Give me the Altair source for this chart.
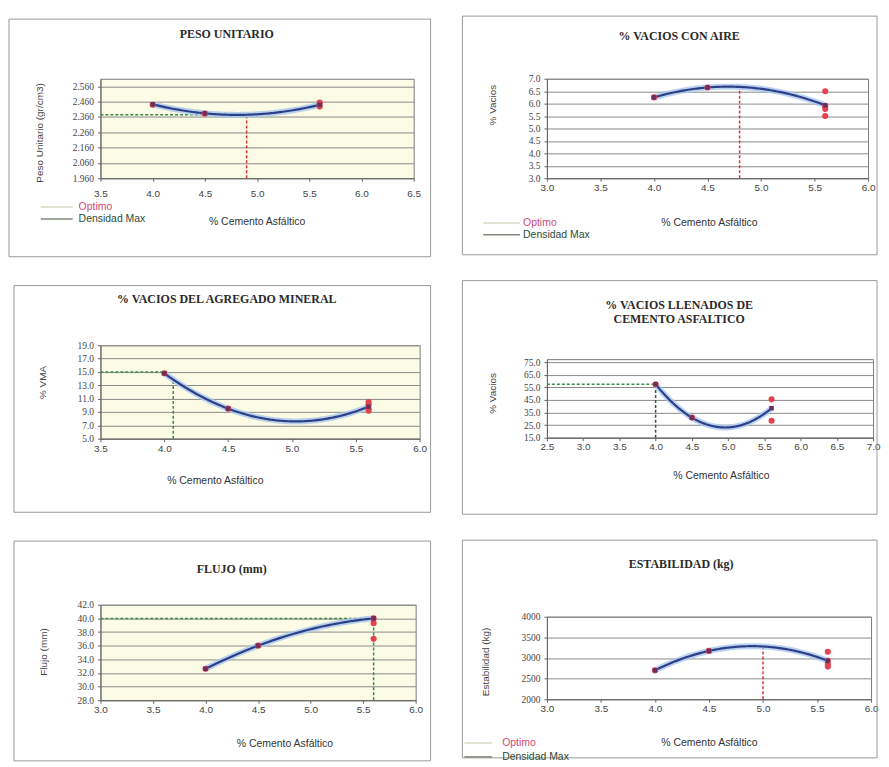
import altair as alt
import pandas as pd

# ---------------- data ----------------
x_levels = [4.0, 4.5, 5.6]

# Peso unitario
peso_avg = [2.443, 2.384, 2.440]
peso_ind_x = [4.0, 4.5, 5.6, 5.6, 5.6]
peso_ind_y = [2.440, 2.382, 2.455, 2.445, 2.428]
peso_opt = [4.9, 1.960, 2.375]          # x, bottom, curve value
peso_dens = [3.5, 4.9, 2.375]           # x from, x to, y

# % Vacios con aire
va_avg = [6.25, 6.65, 5.93]
va_ind_x = [4.0, 4.5, 5.6, 5.6, 5.6, 5.6]
va_ind_y = [6.25, 6.65, 6.50, 5.90, 5.78, 5.50]
va_opt = [4.8, 3.0, 6.68]

# % VMA
vma_avg = [14.8, 9.5, 9.8]
vma_ind_x = [4.0, 4.5, 5.6, 5.6, 5.6, 5.6]
vma_ind_y = [14.8, 9.5, 10.5, 10.1, 9.5, 9.2]
vma_h = [3.5, 4.0, 15.0]
vma_v = [4.07, 5.0, 13.9]

# % Vacios llenados de cemento asfaltico
vfa_avg = [57.5, 31.0, 38.5]
vfa_ind_x = [4.0, 4.5, 5.6, 5.6]
vfa_ind_y = [57.5, 31.0, 45.5, 28.5]
vfa_h = [2.5, 4.0, 57.5]
vfa_v = [4.0, 15.0, 57.5]

# Flujo
fl_avg = [32.6, 36.0, 40.0]
fl_ind_x = [4.0, 4.5, 5.6, 5.6, 5.6]
fl_ind_y = [32.6, 36.0, 40.0, 39.3, 37.0]
fl_h = [3.0, 5.6, 40.0]
fl_v = [5.6, 28.0, 40.0]

# Estabilidad
es_avg = [2700, 3170, 2930]
es_ind_x = [4.0, 4.5, 5.6, 5.6, 5.6, 5.6]
es_ind_y = [2700, 3170, 3150, 2930, 2840, 2790]
es_opt = [5.0, 2000, 3280]

RED = "#d8343c"
GREEN = "#3d8a4a"
CREAM = "#fbfbe6"


def steps(a, b, s):
    out, v = [], a
    while v <= b + 1e-9:
        out.append(round(v, 4))
        v += s
    return out


def panel(c):
    w, h = c["w"], c["h"]
    fl, fr, ft, fb = c["frame"]
    one = pd.DataFrame({"k": [0]})
    X = alt.X("x:Q",
              scale=alt.Scale(domain=c["xdom"], nice=False, zero=False),
              axis=alt.Axis(values=c["xticks"], format=".1f", title="% Cemento Asfáltico",
                            grid=False, labelFont="Liberation Sans", labelFontSize=10,
                            labelColor="#444", labelPadding=c["xlabpad"], labelOverlap=False,
                            labelFlush=False, tickSize=3, tickColor="#666", domainColor="#666",
                            titleFont="Liberation Sans", titleFontSize=10.5, titleFontWeight="normal",
                            titleColor="#333", titleX=c["xt"][0], titleY=c["xt"][1],
                            titleBaseline="middle", titleAlign="center"))
    Y = alt.Y("y:Q",
              scale=alt.Scale(domain=c["ydom"], nice=False, zero=False),
              axis=alt.Axis(values=c["yticks"], format=c["yfmt"], title=c["ytitle"],
                            grid=True, gridColor="#8a8a8a", gridWidth=1,
                            labelFont="Liberation Serif", labelFontSize=9.5, labelColor="#444",
                            labelPadding=4, labelOverlap=False, labelFlush=False,
                            tickSize=3, tickColor="#666", domainColor="#666",
                            titleFont="Liberation Sans", titleFontSize=10, titleFontWeight="normal",
                            titleColor="#444", titleX=c["yt"][0], titleY=c["yt"][1],
                            titleBaseline="middle", titleAlign="center"))

    avg_df = pd.DataFrame({"x": x_levels, "y": c["avg"]})
    ind_df = pd.DataFrame({"x": c["ind_x"], "y": c["ind_y"]})

    layers = []
    layers.append(alt.Chart(one).mark_rect(fillOpacity=0, stroke="#9a9a9a", strokeWidth=1).encode(
        x=alt.value(-fl), x2=alt.value(w + fr), y=alt.value(-ft), y2=alt.value(h + fb)))

    for (x0, y0, y1, col) in c.get("vrules", []):
        d = pd.DataFrame({"x": [x0], "y": [y0], "y2": [y1]})
        layers.append(alt.Chart(d).mark_rule(color=col, strokeDash=[3, 2], strokeWidth=1.5).encode(
            x=X, y=Y, y2="y2:Q"))
    for (x0, x1, yv, col) in c.get("hrules", []):
        d = pd.DataFrame({"x": [x0], "x2": [x1], "y": [yv]})
        layers.append(alt.Chart(d).mark_rule(color=col, strokeDash=[3, 2], strokeWidth=1.5).encode(
            x=X, x2="x2:Q", y=Y))

    base = alt.Chart(avg_df).transform_regression("x", "y", method="poly", order=2, extent=[4.0, 5.6])
    layers.append(base.mark_line(color="#a9c8ee", strokeWidth=6, opacity=0.8).encode(x=X, y=Y))
    layers.append(base.mark_line(color="#2c3f88", strokeWidth=2.2).encode(x=X, y=Y))
    layers.append(alt.Chart(ind_df).mark_circle(size=38, color="#e2434f", opacity=1).encode(x=X, y=Y))
    layers.append(alt.Chart(avg_df).mark_square(size=20, color="#6a2f5c", opacity=1).encode(x=X, y=Y))

    for (txt, tx, ty) in c["title"]:
        layers.append(alt.Chart(one).mark_text(font="Liberation Serif", fontWeight="bold", fontSize=12,
                                               color="#2a2a2a", align="center", baseline="middle").encode(
            x=alt.value(tx), y=alt.value(ty), text=alt.value(txt)))

    if "legend" in c:
        lx0, lx1, ly1, ly2, tx = c["legend"]
        layers.append(alt.Chart(one).mark_rule(color="#d9d9c4", strokeWidth=1.5).encode(
            x=alt.value(lx0), x2=alt.value(lx1), y=alt.value(ly1)))
        layers.append(alt.Chart(one).mark_rule(color="#7f8a7a", strokeWidth=1.5).encode(
            x=alt.value(lx0), x2=alt.value(lx1), y=alt.value(ly2)))
        layers.append(alt.Chart(one).mark_text(font="Liberation Sans", fontSize=10.5, color="#d24a78",
                                               align="left", baseline="middle").encode(
            x=alt.value(tx), y=alt.value(ly1), text=alt.value("Optimo")))
        layers.append(alt.Chart(one).mark_text(font="Liberation Sans", fontSize=10.5, color="#2c4a38",
                                               align="left", baseline="middle").encode(
            x=alt.value(tx), y=alt.value(ly2), text=alt.value("Densidad Max")))

    return alt.layer(*layers).properties(
        width=w, height=h,
        view=alt.ViewBackground(fill=c["bg"], stroke="#7a7a7a", strokeWidth=1))


p1 = panel(dict(w=315, h=100, frame=(92, 17, 60, 79),
                xdom=[3.5, 6.5], xticks=steps(3.5, 6.5, 0.5),
                ydom=[1.96, 2.61], yticks=steps(1.96, 2.56, 0.1), yfmt=".3f",
                ytitle="Peso Unitario (gr/cm3)", yt=(-61, 54), xt=(157, 44), xlabpad=7,
                avg=peso_avg, ind_x=peso_ind_x, ind_y=peso_ind_y,
                vrules=[(peso_opt[0], peso_opt[1], peso_opt[2], RED)],
                hrules=[(peso_dens[0], peso_dens[1], peso_dens[2], GREEN)],
                title=[("PESO UNITARIO", 127, -45)],
                legend=(-60, -28, 129, 141, -22), bg=CREAM))

p2 = panel(dict(w=323, h=100, frame=(85, 9, 63, 77),
                xdom=[3.0, 6.0], xticks=steps(3.0, 6.0, 0.5),
                ydom=[3.0, 7.0], yticks=steps(3.0, 7.0, 0.5), yfmt=".1f",
                ytitle="% Vacios", yt=(-55, 26), xt=(163, 45), xlabpad=1,
                avg=va_avg, ind_x=va_ind_x, ind_y=va_ind_y,
                vrules=[(va_opt[0], va_opt[1], va_opt[2], RED)],
                title=[("% VACIOS CON AIRE", 133, -43)],
                legend=(-64, -27, 145, 157, -24), bg="white"))

p3 = panel(dict(w=321, h=94, frame=(87, 11, 60, 74),
                xdom=[3.5, 6.0], xticks=steps(3.5, 6.0, 0.5),
                ydom=[5.0, 19.0], yticks=steps(5.0, 19.0, 2.0), yfmt=".1f",
                ytitle="% VMA", yt=(-58, 37), xt=(115, 42), xlabpad=2,
                avg=vma_avg, ind_x=vma_ind_x, ind_y=vma_ind_y,
                vrules=[(vma_v[0], vma_v[1], vma_v[2], GREEN)],
                hrules=[(vma_h[0], vma_h[1], vma_h[2], GREEN)],
                title=[("% VACIOS DEL AGREGADO MINERAL", 127, -46)], bg=CREAM))

p4 = panel(dict(w=328, h=79, frame=(85, 4, 79, 77),
                xdom=[2.5, 7.0], xticks=steps(2.5, 7.0, 0.5),
                ydom=[15.0, 77.5], yticks=steps(15.0, 75.0, 10.0), yfmt=".1f",
                ytitle="% Vacios", yt=(-55, 34), xt=(175, 38), xlabpad=1,
                avg=vfa_avg, ind_x=vfa_ind_x, ind_y=vfa_ind_y,
                vrules=[(vfa_v[0], vfa_v[1], vfa_v[2], "#2f5a3a")],
                hrules=[(vfa_h[0], vfa_h[1], vfa_h[2], GREEN)],
                title=[("% VACIOS LLENADOS DE", 133, -54), ("CEMENTO ASFALTICO", 133, -40)],
                bg="white"))

p5 = panel(dict(w=317, h=96, frame=(87, 15, 64, 61),
                xdom=[3.0, 6.0], xticks=steps(3.0, 6.0, 0.5),
                ydom=[28.0, 42.0], yticks=steps(28.0, 42.0, 2.0), yfmt=".1f",
                ytitle="Flujo (mm)", yt=(-57, 47), xt=(185, 44), xlabpad=1,
                avg=fl_avg, ind_x=fl_ind_x, ind_y=fl_ind_y,
                vrules=[(fl_v[0], fl_v[1], fl_v[2], GREEN)],
                hrules=[(fl_h[0], fl_h[1], fl_h[2], GREEN)],
                title=[("FLUJO (mm)", 132, -36)], bg=CREAM))

p6 = panel(dict(w=326, h=83, frame=(85, 6, 77, 59),
                xdom=[3.0, 6.0], xticks=steps(3.0, 6.0, 0.5),
                ydom=[2000, 4000], yticks=steps(2000, 4000, 500), yfmt="d",
                ytitle="Estabilidad (kg)", yt=(-62, 45), xt=(163, 44), xlabpad=1,
                avg=es_avg, ind_x=es_ind_x, ind_y=es_ind_y,
                vrules=[(es_opt[0], es_opt[1], es_opt[2], RED)],
                title=[("ESTABILIDAD (kg)", 135, -53)],
                legend=(-83, -55, 127, 141, -45), bg="white"))

left = alt.vconcat(p1, p3, p5, spacing=27)
right = alt.vconcat(p2, p4, p6, spacing=24)
chart = alt.hconcat(left, right, spacing=30).properties(
    padding={"top": 5, "left": 0, "right": 0, "bottom": 0}
).configure(background="white")

chart.save("out.html", embed_options={"renderer": "svg", "actions": False})
